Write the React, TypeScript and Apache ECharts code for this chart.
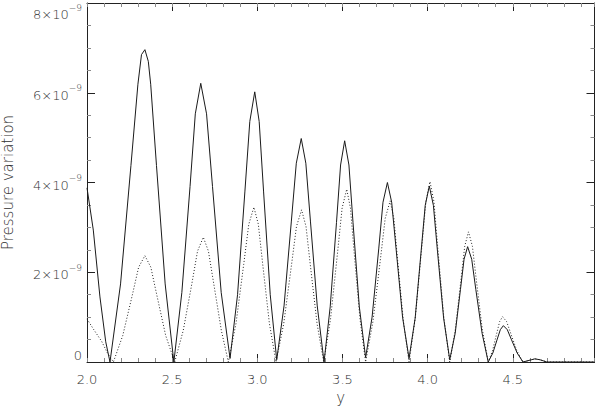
import React, { useEffect, useRef } from "react";
import * as echarts from "echarts";

// x positions (y coordinate) and pressure values in units of 1e-9
const solidX = [
  2.000, 2.037, 2.076, 2.110, 2.135,
  2.197, 2.258, 2.299, 2.320, 2.340, 2.360, 2.374, 2.408, 2.459, 2.510,
  2.557, 2.605, 2.636, 2.668, 2.702, 2.737, 2.788, 2.840,
  2.884, 2.927, 2.956, 2.985, 3.011, 3.037, 3.076, 3.114,
  3.157, 3.200, 3.229, 3.258, 3.285, 3.312, 3.352, 3.392,
  3.428, 3.465, 3.489, 3.513, 3.538, 3.562, 3.599, 3.636,
  3.674, 3.713, 3.738, 3.764, 3.789, 3.815, 3.853, 3.891,
  3.927, 3.962, 3.986, 4.010, 4.034, 4.058, 4.094, 4.130,
  4.162, 4.193, 4.214, 4.235, 4.259, 4.283, 4.320, 4.356,
  4.383, 4.409, 4.427, 4.445, 4.468, 4.491, 4.526, 4.560,
  4.600, 4.630, 4.660, 4.700, 4.980,
];
const solidY = [
  3.88, 2.94, 1.45, 0.45, 0.00,
  1.74, 4.38, 6.19, 6.85, 6.96, 6.70, 6.19, 4.38, 1.74, 0.00,
  1.55, 3.91, 5.53, 6.21, 5.53, 3.91, 1.55, 0.08,
  1.50, 3.79, 5.36, 6.02, 5.36, 3.79, 1.50, 0.05,
  1.25, 3.14, 4.43, 4.98, 4.43, 3.14, 1.25, 0.00,
  1.23, 3.11, 4.39, 4.93, 4.39, 3.11, 1.23, 0.10,
  1.00, 2.52, 3.56, 4.00, 3.56, 2.52, 1.00, 0.08,
  0.98, 2.47, 3.49, 3.92, 3.49, 2.47, 0.98, 0.05,
  0.64, 1.62, 2.29, 2.57, 2.29, 1.62, 0.64, 0.00,
  0.20, 0.51, 0.72, 0.81, 0.72, 0.51, 0.20, 0.00,
  0.04, 0.07, 0.05, 0.00, 0.00,
];
const dottedX = [
  2.000, 2.040, 2.086, 2.120, 2.155,
  2.210, 2.266, 2.303, 2.340, 2.375, 2.410, 2.462, 2.515,
  2.565, 2.616, 2.649, 2.683, 2.713, 2.744, 2.789, 2.830,
  2.875, 2.920, 2.950, 2.980, 3.006, 3.032, 3.071, 3.110,
  3.155, 3.200, 3.230, 3.260, 3.286, 3.312, 3.351, 3.390,
  3.430, 3.471, 3.498, 3.525, 3.547, 3.569, 3.603, 3.636,
  3.679, 3.722, 3.751, 3.780, 3.802, 3.824, 3.858, 3.891,
  3.928, 3.965, 3.990, 4.014, 4.037, 4.060, 4.095, 4.130,
  4.163, 4.196, 4.218, 4.240, 4.263, 4.286, 4.321, 4.356,
  4.381, 4.406, 4.423, 4.440, 4.464, 4.488, 4.524, 4.560,
  4.600, 4.630, 4.660, 4.700, 4.980,
];
const dottedY = [
  0.96, 0.72, 0.46, 0.20, 0.00,
  0.59, 1.49, 2.11, 2.37, 2.11, 1.49, 0.59, 0.00,
  0.70, 1.75, 2.47, 2.78, 2.47, 1.75, 0.70, 0.00,
  0.86, 2.17, 3.07, 3.45, 3.07, 2.17, 0.86, 0.00,
  0.85, 2.14, 3.02, 3.39, 3.02, 2.14, 0.85, 0.00,
  0.96, 2.43, 3.43, 3.85, 3.43, 2.43, 0.96, 0.00,
  0.90, 2.26, 3.20, 3.59, 3.20, 2.26, 0.90, 0.00,
  1.00, 2.53, 3.58, 4.02, 3.58, 2.53, 1.00, 0.00,
  0.73, 1.83, 2.58, 2.90, 2.58, 1.83, 0.73, 0.00,
  0.25, 0.64, 0.90, 1.01, 0.90, 0.64, 0.25, 0.00,
  0.04, 0.07, 0.05, 0.00, 0.00,
];

const X_MIN = 2;
const X_MAX = 4.98;
const Y_MIN = 0;
const Y_MAX = 8;
const xTickLabels = ["2.0", "2.5", "3.0", "3.5", "4.0", "4.5"];
const yTickMantissas = [0, 2, 4, 6, 8];
const yExponent = "−9";

const FONT = "DejaVu Sans";
const TEXT_COLOR = "#303030";
const AXIS_COLOR = "#222";
const MINOR_COLOR = "#8a8a8a";

export default function App() {
  const ref = useRef<HTMLDivElement>(null);

  useEffect(() => {
    if (!ref.current) return;
    const chart = echarts.init(ref.current, undefined, { renderer: "svg" });

    const xMajor = (position: "bottom" | "top", withLabels: boolean) => ({
      type: "value",
      gridIndex: 0,
      position,
      min: X_MIN,
      max: X_MAX,
      interval: 0.5,
      axisLine: { show: true, lineStyle: { color: AXIS_COLOR, width: 1 } },
      axisTick: { show: true, inside: true, length: 8, lineStyle: { color: AXIS_COLOR } },
      splitLine: { show: false },
      axisLabel: withLabels
        ? {
            show: true,
            margin: 11,
            color: TEXT_COLOR,
            fontFamily: FONT,
            fontSize: 13,
            fontWeight: 200,
            showMaxLabel: false,
            formatter: (v: number) => {
              const idx = Math.round((v - X_MIN) / 0.5);
              if (Math.abs(X_MIN + idx * 0.5 - v) > 1e-6) return "";
              return xTickLabels[idx] ?? "";
            },
          }
        : { show: false },
      ...(withLabels
        ? {
            name: "y",
            nameLocation: "middle",
            nameGap: 27,
            nameTextStyle: { color: TEXT_COLOR, fontFamily: FONT, fontSize: 15, fontWeight: 200 },
          }
        : {}),
    });
    const xMinor = (position: "bottom" | "top") => ({
      type: "value",
      gridIndex: 0,
      position,
      min: X_MIN,
      max: X_MAX,
      interval: 0.1,
      axisLine: { show: false },
      axisTick: { show: true, inside: true, length: 4, lineStyle: { color: MINOR_COLOR } },
      splitLine: { show: false },
      axisLabel: { show: false },
    });

    const yAxisDef = (position: "left" | "right", withLabels: boolean) => ({
      type: "value",
      gridIndex: 0,
      position,
      min: Y_MIN,
      max: Y_MAX,
      interval: 2,
      axisLine: { show: true, lineStyle: { color: AXIS_COLOR, width: 1 } },
      axisTick: { show: true, inside: true, length: 8, lineStyle: { color: AXIS_COLOR } },
      minorTick: { show: true, splitNumber: 4, length: 4, lineStyle: { color: MINOR_COLOR } },
      splitLine: { show: false },
      minorSplitLine: { show: false },
      axisLabel: withLabels
        ? {
            show: true,
            margin: 5,
            color: TEXT_COLOR,
            fontFamily: FONT,
            verticalAlignMinLabel: "bottom",
            verticalAlignMaxLabel: "top",
            formatter: (v: number) => {
              const m = yTickMantissas.find((t) => Math.abs(t - v) < 1e-6);
              if (m === undefined) return "";
              if (m === 0) return "{m|0}";
              return `{m|${m}×10}{s|${yExponent}}`;
            },
            rich: {
              m: {
                fontFamily: FONT,
                fontSize: 13,
                fontWeight: 200,
                color: TEXT_COLOR,
                lineHeight: 18,
                verticalAlign: "bottom",
              },
              s: {
                fontFamily: FONT,
                fontSize: 9,
                fontWeight: 200,
                color: TEXT_COLOR,
                lineHeight: 10,
                verticalAlign: "top",
              },
            },
          }
        : { show: false },
      ...(withLabels
        ? {
            name: "Pressure variation",
            nameLocation: "middle",
            nameGap: 72,
            nameRotate: 90,
            nameTextStyle: { color: TEXT_COLOR, fontFamily: FONT, fontSize: 15, fontWeight: 200 },
          }
        : {}),
    });

    const option = {
      animation: false,
      backgroundColor: "#ffffff",
      grid: {
        left: 87,
        right: 1.5,
        top: 3,
        bottom: 47,
        containLabel: false,
        outerBoundsMode: "none",
      },
      xAxis: [xMajor("bottom", true), xMinor("bottom"), xMajor("top", false), xMinor("top")],
      yAxis: [yAxisDef("left", true), yAxisDef("right", false)],
      series: [
        {
          type: "line",
          xAxisIndex: 0,
          yAxisIndex: 0,
          showSymbol: false,
          symbol: "none",
          lineStyle: { color: "#1a1a1a", width: 1 },
          data: solidX.map((x, i) => [x, solidY[i]]),
          z: 3,
        },
        {
          type: "line",
          xAxisIndex: 0,
          yAxisIndex: 0,
          showSymbol: false,
          symbol: "none",
          lineStyle: { color: "#222", width: 1, type: [1, 2] },
          data: dottedX.map((x, i) => [x, dottedY[i]]),
          z: 2,
        },
      ],
    };
    chart.setOption(option as any);
    return () => chart.dispose();
  }, []);

  return (
    <div
      ref={ref}
      style={{ position: "absolute", left: 0, top: 0, width: 596, height: 409, background: "#fff" }}
    />
  );
}
